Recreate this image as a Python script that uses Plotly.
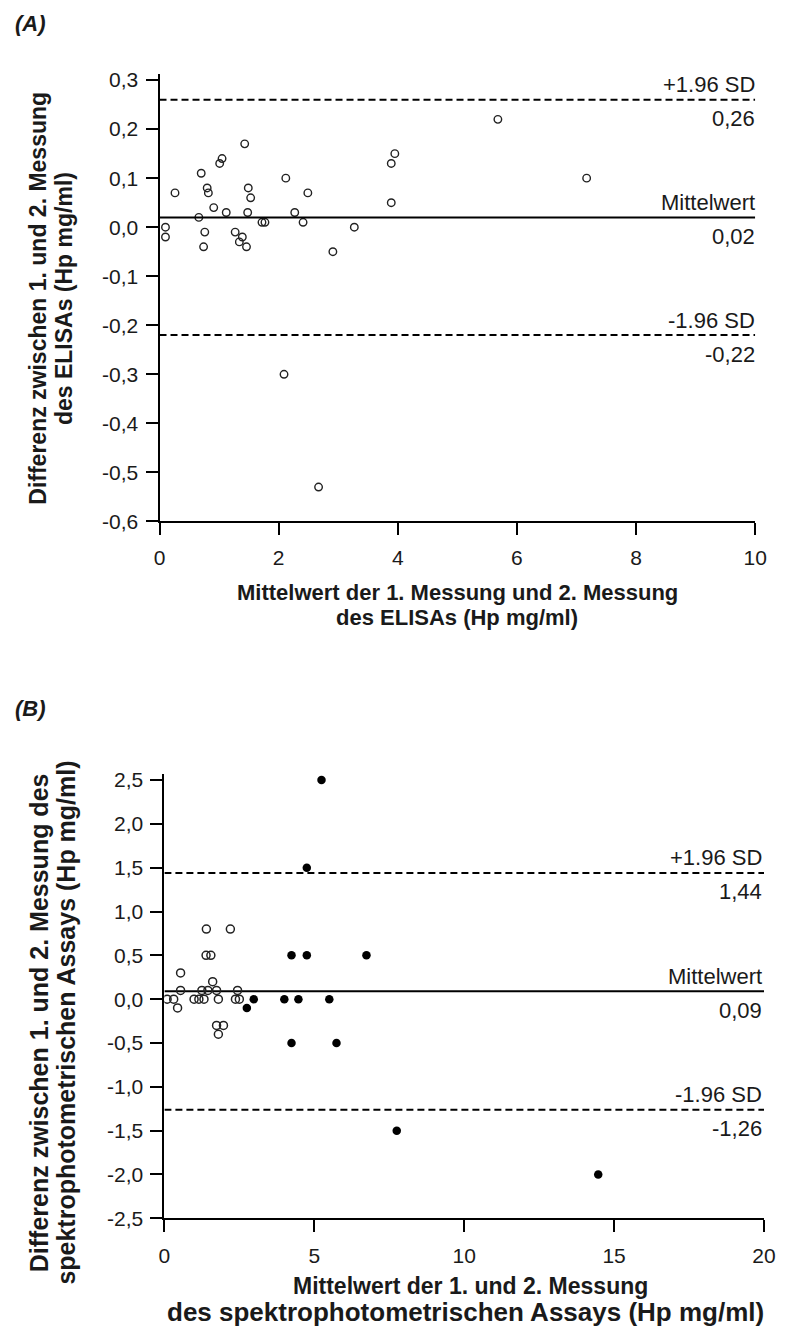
import plotly.graph_objects as go

# The browser page adds an 8px body margin; the figure is sized so that the
# whole page is exactly the 785x1338 window.
PAGE_W, PAGE_H = 785, 1338
OFF = 8
W, H = PAGE_W - 2 * OFF, PAGE_H - 2 * OFF

# ---------------- Panel A data (ELISA) ----------------
a_mean = [0.10, 0.10, 0.26, 0.66, 0.70, 0.74, 0.76, 0.80, 0.82, 0.91, 1.01, 1.05,
          1.12, 1.27, 1.34, 1.39, 1.43, 1.46, 1.48, 1.49, 1.53, 1.72, 1.77, 2.12,
          2.27, 2.41, 2.49, 2.91, 3.27, 3.89, 3.89, 3.95, 5.68, 7.17, 2.09, 2.67]
a_diff = [0.00, -0.02, 0.07, 0.02, 0.11, -0.04, -0.01, 0.08, 0.07, 0.04, 0.13, 0.14,
          0.03, -0.01, -0.03, -0.02, 0.17, -0.04, 0.03, 0.08, 0.06, 0.01, 0.01, 0.10,
          0.03, 0.01, 0.07, -0.05, 0.00, 0.05, 0.13, 0.15, 0.22, 0.10, -0.30, -0.53]
a_lines = [0.26, 0.02, -0.22]
a_line_names = ["+1.96 SD", "Mittelwert", "-1.96 SD"]
a_line_values = ["0,26", "0,02", "-0,22"]
a_yticks = [0.3, 0.2, 0.1, 0.0, -0.1, -0.2, -0.3, -0.4, -0.5, -0.6]
a_yticktext = ["0,3", "0,2", "0,1", "0,0", "-0,1", "-0,2", "-0,3", "-0,4", "-0,5", "-0,6"]
a_xticks = [0, 2, 4, 6, 8, 10]
a_xticktext = ["0", "2", "4", "6", "8", "10"]

# ---------------- Panel B data (spectrophotometric) ----------------
b_open_x = [0.09, 0.31, 0.44, 0.54, 0.54, 0.99, 1.15, 1.32, 1.25, 1.45, 1.61, 1.74,
            1.80, 1.74, 1.97, 1.80, 2.37, 2.50, 2.44, 1.39, 1.55, 1.40, 2.20]
b_open_y = [0.0, 0.0, -0.1, 0.3, 0.1, 0.0, 0.0, 0.0, 0.1, 0.1, 0.2, 0.1,
            0.0, -0.3, -0.3, -0.4, 0.0, 0.0, 0.1, 0.5, 0.5, 0.8, 0.8]
b_fill_x = [2.75, 2.98, 4.00, 4.47, 5.50, 4.24, 5.74, 4.24, 4.75, 6.74, 4.75, 5.24, 7.75, 14.47]
b_fill_y = [-0.1, 0.0, 0.0, 0.0, 0.0, -0.5, -0.5, 0.5, 0.5, 0.5, 1.5, 2.5, -1.5, -2.0]
b_lines = [1.44, 0.09, -1.26]
b_line_names = ["+1.96 SD", "Mittelwert", "-1.96 SD"]
b_line_values = ["1,44", "0,09", "-1,26"]
b_yticks = [2.5, 2.0, 1.5, 1.0, 0.5, 0.0, -0.5, -1.0, -1.5, -2.0, -2.5]
b_yticktext = ["2,5", "2,0", "1,5", "1,0", "0,5", "0,0", "-0,5", "-1,0", "-1,5", "-2,0", "-2,5"]
b_xticks = [0, 5, 10, 15, 20]
b_xticktext = ["0", "5", "10", "15", "20"]

FONT = "'Liberation Sans', Arial, sans-serif"
TXT = "#1a1a1a"


def px_x(p):
    return (p - OFF) / W


def px_y(p):
    return 1 - (p - OFF) / H


fig = go.Figure()

# Panel A points
fig.add_trace(go.Scatter(x=a_mean, y=a_diff, mode="markers", xaxis="x", yaxis="y",
                         marker=dict(symbol="circle-open", size=7.5, color="#222",
                                     line=dict(width=1.4, color="#222")),
                         showlegend=False, hoverinfo="skip"))
# Panel A reference lines
for v, dash in zip(a_lines, ["dash", "solid", "dash"]):
    fig.add_trace(go.Scatter(x=[0, 10], y=[v, v], mode="lines", xaxis="x", yaxis="y",
                             line=dict(color="black", width=2, dash="7px,4px" if dash == "dash" else "solid"),
                             showlegend=False, hoverinfo="skip"))

# Panel B reference lines
for v, dash in zip(b_lines, ["dash", "solid", "dash"]):
    fig.add_trace(go.Scatter(x=[0, 20], y=[v, v], mode="lines", xaxis="x2", yaxis="y2",
                             line=dict(color="black", width=2, dash="7px,4px" if dash == "dash" else "solid"),
                             showlegend=False, hoverinfo="skip"))
# Panel B points
fig.add_trace(go.Scatter(x=b_open_x, y=b_open_y, mode="markers", xaxis="x2", yaxis="y2",
                         marker=dict(symbol="circle-open", size=8, color="#222",
                                     line=dict(width=1.5, color="#222")),
                         showlegend=False, hoverinfo="skip"))
fig.add_trace(go.Scatter(x=b_fill_x, y=b_fill_y, mode="markers", xaxis="x2", yaxis="y2",
                         marker=dict(symbol="circle", size=8.5, color="black"),
                         showlegend=False, hoverinfo="skip"))

axis_common = dict(showline=True, linewidth=2, linecolor="black", ticks="outside",
                   ticklen=12, tickwidth=2, tickcolor="black", showgrid=False,
                   zeroline=False, tickfont=dict(family=FONT, size=21, color=TXT))

fig.update_layout(
    width=W, height=H, margin=dict(l=0, r=0, t=0, b=0),
    paper_bgcolor="white", plot_bgcolor="white", showlegend=False,
    xaxis=dict(domain=[px_x(157), px_x(767)], range=[0, 10], anchor="y",
               tickvals=a_xticks, ticktext=a_xticktext, ticklabelstandoff=4,
               ticklabeloverflow="allow", **axis_common),
    yaxis=dict(domain=[px_y(522), px_y(69)], range=[-0.6, 0.312], anchor="x",
               tickvals=a_yticks, ticktext=a_yticktext, ticklabelstandoff=3, **axis_common),
    xaxis2=dict(domain=[px_x(162), px_x(776)], range=[0, 20], anchor="y2",
                tickvals=b_xticks, ticktext=b_xticktext, ticklabelstandoff=5,
                ticklabeloverflow="allow", **axis_common),
    yaxis2=dict(domain=[px_y(1228), px_y(778)], range=[-2.5, 2.568], anchor="x2",
                tickvals=b_yticks, ticktext=b_yticktext, ticklabelstandoff=3, **axis_common),
)

ann = []


def text(x, y, s, size=22, bold=False, italic=False, angle=0, xanchor="center"):
    t = s
    if bold:
        t = "<b>" + t + "</b>"
    if italic:
        t = "<i>" + t + "</i>"
    ann.append(dict(x=px_x(x), y=px_y(y), xref="paper", yref="paper", text=t,
                    showarrow=False, textangle=angle, xanchor=xanchor, yanchor="middle",
                    font=dict(family=FONT, size=size, color=TXT)))


# Panel labels
text(7, 18, "(A)", size=22, bold=True, italic=True, xanchor="left")
text(7, 712, "(B)", size=22, bold=True, italic=True, xanchor="left")

# Panel A axis titles
text(33, 296, "Differenz zwischen 1. und 2. Messung", size=23, bold=True, angle=-90)
text(60, 296, "des ELISAs (Hp mg/ml)", size=23, bold=True, angle=-90)
text(462, 594, "Mittelwert der 1. Messung und 2. Messung", size=22, bold=True)
text(462, 619, "des ELISAs (Hp mg/ml)", size=22, bold=True)

# Panel B axis titles
text(33, 1030, "Differenz zwischen 1. und 2. Messung des", size=25, bold=True, angle=-90)
text(61, 1030, "spektrophotometrischen Assays (Hp mg/ml)", size=25, bold=True, angle=-90)
text(475, 1297, "Mittelwert der 1. und 2. Messung", size=23, bold=True)
text(470, 1323, "des spektrophotometrischen Assays (Hp mg/ml)", size=26, bold=True)

# Reference line labels
for v, n, lab in zip(a_lines, a_line_names, a_line_values):
    ann.append(dict(x=10, y=v, xref="x", yref="y", text=n, showarrow=False,
                    xanchor="right", yanchor="middle", xshift=2, yshift=15,
                    font=dict(family=FONT, size=22, color=TXT)))
    ann.append(dict(x=10, y=v, xref="x", yref="y", text=lab, showarrow=False,
                    xanchor="right", yanchor="middle", xshift=2, yshift=-19,
                    font=dict(family=FONT, size=22, color=TXT)))
for v, n, lab in zip(b_lines, b_line_names, b_line_values):
    ann.append(dict(x=20, y=v, xref="x2", yref="y2", text=n, showarrow=False,
                    xanchor="right", yanchor="middle", xshift=0, yshift=15,
                    font=dict(family=FONT, size=22, color=TXT)))
    ann.append(dict(x=20, y=v, xref="x2", yref="y2", text=lab, showarrow=False,
                    xanchor="right", yanchor="middle", xshift=0, yshift=-19,
                    font=dict(family=FONT, size=22, color=TXT)))

fig.update_layout(annotations=ann)
fig.write_html("out.html", config={"displayModeBar": False})
